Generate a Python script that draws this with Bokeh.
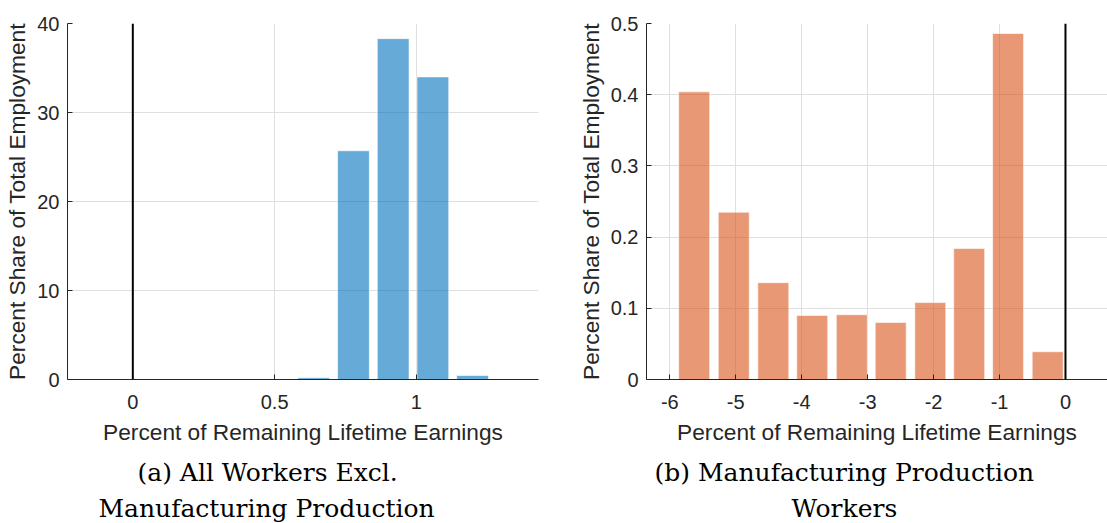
from bokeh.plotting import figure
from bokeh.models import Range1d, FixedTicker, Span, Title
from bokeh.layouts import row
from bokeh.embed import file_html
from bokeh.resources import INLINE

# ---------------- data ----------------
a_bin_centers = [0.638, 0.778, 0.918, 1.058, 1.198]
a_shares = [0.2, 25.7, 38.3, 34.0, 0.45]
a_xticks = [0.0, 0.5, 1.0]
a_xtick_labels = ["0", "0.5", "1"]
a_yticks = [0.0, 10.0, 20.0, 30.0, 40.0]
a_ytick_labels = ["0", "10", "20", "30", "40"]

b_bin_centers = [-5.63, -5.03, -4.43, -3.84, -3.24, -2.65, -2.05, -1.46, -0.87, -0.27]
b_shares = [0.404, 0.235, 0.136, 0.090, 0.091, 0.080, 0.108, 0.184, 0.486, 0.039]
b_xticks = [-6.0, -5.0, -4.0, -3.0, -2.0, -1.0, 0.0]
b_xtick_labels = ["-6", "-5", "-4", "-3", "-2", "-1", "0"]
b_yticks = [0.0, 0.1, 0.2, 0.3, 0.4, 0.5]
b_ytick_labels = ["0", "0.1", "0.2", "0.3", "0.4", "0.5"]

x_title = "Percent of Remaining Lifetime Earnings"
y_title = "Percent Share of Total Employment"
caption_a = ["(a) All Workers Excl.", "Manufacturing Production"]
caption_b = ["(b) Manufacturing Production", "Workers"]

# ---------------- style ----------------
AX = "#262626"
SANS = "Liberation Sans"
SERIF = "DejaVu Serif"
H = 523


def style(p, xt, xl, yt, yl):
    for ax, t, l in ((p.xaxis[0], xt, xl), (p.yaxis[0], yt, yl)):
        ax.ticker = FixedTicker(ticks=t)
        ax.major_label_overrides = dict(zip(t, l))
        ax.major_tick_in = 5
        ax.major_tick_out = 0
        ax.minor_tick_line_color = None
        ax.axis_line_color = AX
        ax.major_tick_line_color = AX
        ax.major_label_text_font = SANS
        ax.major_label_text_font_size = "20px"
        ax.major_label_text_color = AX
        ax.axis_label_text_font = SANS
        ax.axis_label_text_font_size = "22.7px"
        ax.axis_label_text_font_style = "normal"
        ax.axis_label_text_color = AX
    p.xaxis.axis_label = x_title
    p.yaxis.axis_label = y_title
    p.xaxis.major_label_standoff = 15
    p.yaxis.major_label_standoff = 8
    p.xaxis.axis_label_standoff = 7
    p.yaxis.axis_label_standoff = 4
    p.grid.grid_line_color = "#dfdfdf"
    p.grid.grid_line_width = 1
    p.outline_line_color = None
    p.background_fill_color = "white"
    p.border_fill_color = "white"
    p.add_layout(Span(location=0, dimension="height", line_color="black", line_width=2))


def captions(p, lines, offsets):
    for txt, off, so in zip(lines, offsets, (17, -7)):
        p.add_layout(Title(text=txt, align="left", offset=off, standoff=so,
                           text_font=SERIF, text_font_size="25px", text_font_style="normal",
                           text_color="black"), "below")


# ---------------- panel (a) ----------------
p1 = figure(width=560, height=H, x_range=Range1d(-0.2303, 1.4305), y_range=Range1d(0, 40),
            min_border_left=67, min_border_right=22, min_border_top=23, min_border_bottom=144,
            output_backend="svg", toolbar_location=None)
p1.vbar(x=a_bin_centers, top=a_shares, width=0.112, bottom=0,
        fill_color="#0072BD", fill_alpha=0.6, line_color="white", line_alpha=0.6, line_width=1)
style(p1, a_xticks, a_xtick_labels, a_yticks, a_ytick_labels)
captions(p1, caption_a, (70, 31))

# ---------------- panel (b) ----------------
p2 = figure(width=547, height=H, x_range=Range1d(-6.353, -6.353 + 461 / 65.95), y_range=Range1d(0, 0.5),
            min_border_left=86, min_border_right=0, min_border_top=23, min_border_bottom=144,
            output_backend="svg", toolbar_location=None)
p2.vbar(x=b_bin_centers, top=b_shares, width=0.47, bottom=0,
        fill_color="#D95319", fill_alpha=0.6, line_color="white", line_alpha=0.6, line_width=1)
style(p2, b_xticks, b_xtick_labels, b_yticks, b_ytick_labels)
captions(p2, caption_b, (8, 145))

layout = row(p1, p2)
open("out.html", "w").write(file_html(layout, INLINE))
